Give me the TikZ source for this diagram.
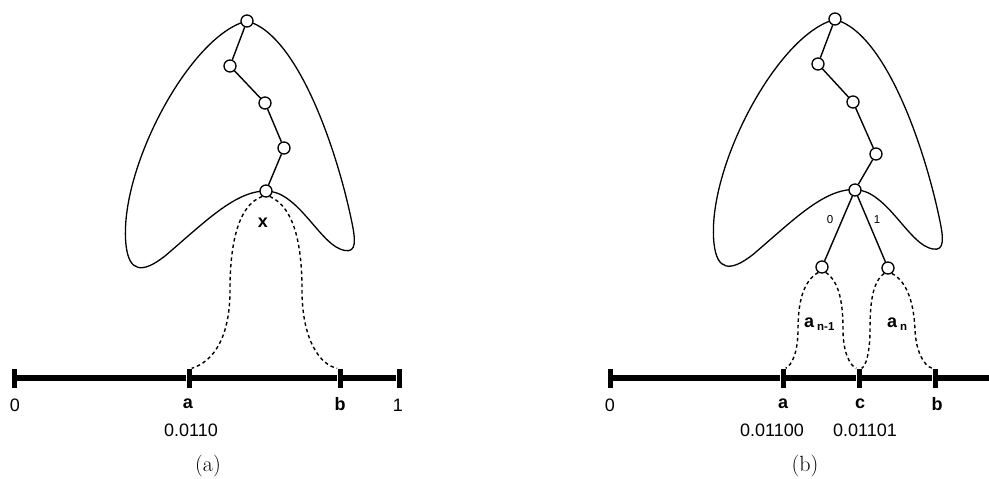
\documentclass[tikz,border=0pt]{standalone}
\usepackage{fontspec}
\newfontfamily\labfont{Liberation Sans}
\usetikzlibrary{backgrounds}
\tikzset{
  vert/.style={circle, draw, fill=white, line width=1.3pt, minimum size=12pt, inner sep=0pt},
  blob/.style={line width=1.3pt},
  treeedge/.style={line width=1.4pt},
  dashcurve/.style={line width=1.4pt, dash pattern=on 3.5pt off 3pt},
  axisline/.style={line width=5.5pt},
  tickmark/.style={rectangle, fill=black, minimum width=5pt, minimum height=19pt, inner sep=0pt},
  lab/.style={font=\labfont\fontsize{18}{21}\selectfont, inner sep=0pt},
  blab/.style={font=\labfont\bfseries\fontsize{18}{21}\selectfont, inner sep=0pt},
  slab/.style={font=\labfont\fontsize{11.5}{13}\selectfont, inner sep=0pt},
  captext/.style={font=\rmfamily\fontsize{22}{26}\selectfont, inner sep=0pt}
}
\newcommand{\blobshape}{(247,21) .. controls (190,35) and (118,170) .. (126,245)
  .. controls (129,272) and (142,274) .. (165,256)
  .. controls (205,222) and (235,191) .. (266,191)
  .. controls (297,191) and (318,240) .. (340,249)
  .. controls (355,255) and (356,245) .. (353,228)
  .. controls (340,160) and (300,35) .. (247,21) -- cycle}
\begin{document}
\begin{tikzpicture}[x=1pt,y=-1pt]
\useasboundingbox (0,0) rectangle (989,479);
% ---------- panel (a) ----------
\node[vert] (va1) at (247,21) {};
\node[vert] (va2) at (230,66) {};
\node[vert] (va3) at (265,103) {};
\node[vert] (va4) at (284,148) {};
\node[vert] (va5) at (266,191) {};
\draw[treeedge] (va1) -- (va2) -- (va3) -- (va4) -- (va5);
\node[tickmark] (ta0) at (14,378) {};
\node[tickmark] (taa) at (189,378) {};
\node[tickmark] (tab) at (340,378) {};
\node[tickmark] (ta1) at (399,378) {};
\draw[axisline] (ta0) -- (taa) -- (tab) -- (ta1);
\begin{scope}[on background layer]
  \draw[blob] \blobshape;
  \draw[dashcurve] (va5.235) .. controls (236,206) and (230,250) .. (230,290)
     .. controls (230,340) and (212,362) .. (taa.north east);
  \draw[dashcurve] (va5.305) .. controls (296,208) and (302,250) .. (302,290)
     .. controls (302,340) and (320,365) .. (tab.north west);
\end{scope}
\node[blab] (lx) at (263,223) {x};
\node[lab] (la0) at (15,405) {0};
\node[blab] (laa) at (188,404) {a};
\node[blab] (lab) at (340,404) {b};
\node[lab] (la1) at (398,405) {1};
\node[lab] (lav) at (191,430) {0.0110};
\node[captext] (capa) at (208,466) {(a)};
% ---------- panel (b) ----------
\node[vert] (vb1) at (835,19) {};
\node[vert] (vb2) at (818,64) {};
\node[vert] (vb3) at (853,102) {};
\node[vert] (vb4) at (876,154) {};
\node[vert] (vb5) at (855,190) {};
\node[vert] (c1) at (822,267) {};
\node[vert] (c2) at (888,268) {};
\draw[treeedge] (vb1) -- (vb2) -- (vb3) -- (vb4) -- (vb5);
\draw[treeedge] (vb5) -- (c1);
\draw[treeedge] (vb5) -- (c2);
\node[slab] (l0) at (830,220) {0};
\node[slab] (l1) at (877,220) {1};
\node[tickmark] (tb0) at (610,378) {};
\node[tickmark] (tba) at (783,378) {};
\node[tickmark] (tbc) at (859,378) {};
\node[tickmark] (tbb) at (935,378) {};
\coordinate (tbend) at (989,378);
\draw[axisline] (tb0) -- (tba) -- (tbc) -- (tbb) -- (tbend);
\begin{scope}[on background layer]
  \begin{scope}[shift={(588,-1.5)}]
    \draw[blob] \blobshape;
  \end{scope}
  \draw[dashcurve] (c1.235) .. controls (802,282) and (798,305) .. (798,330)
     .. controls (798,352) and (792,365) .. (tba.north east);
  \draw[dashcurve] (c1.305) .. controls (840,282) and (843,305) .. (843,330)
     .. controls (843,352) and (850,366) .. (tbc.north west);
  \draw[dashcurve] (c2.235) .. controls (872,282) and (870,305) .. (870,330)
     .. controls (870,352) and (866,366) .. (tbc.north east);
  \draw[dashcurve] (c2.305) .. controls (908,282) and (914,305) .. (915,330)
     .. controls (916,352) and (924,366) .. (tbb.north west);
\end{scope}
\node[blab, anchor=base west] (lan1) at (804,327) {a\,\raisebox{-3pt}{\fontsize{11.5}{13}\selectfont n-1}};
\node[blab, anchor=base west] (lan) at (887,327) {a\,\raisebox{-3pt}{\fontsize{11.5}{13}\selectfont n}};
\node[lab] (lb0) at (610,405) {0};
\node[blab] (lba) at (783,404) {a};
\node[blab] (lbc) at (860,404) {c};
\node[blab] (lbb) at (937,404) {b};
\node[lab] (lbv1) at (772,430) {0.01100};
\node[lab] (lbv2) at (865,430) {0.01101};
\node[captext] (capb) at (805,466) {(b)};
\end{tikzpicture}
\end{document}
